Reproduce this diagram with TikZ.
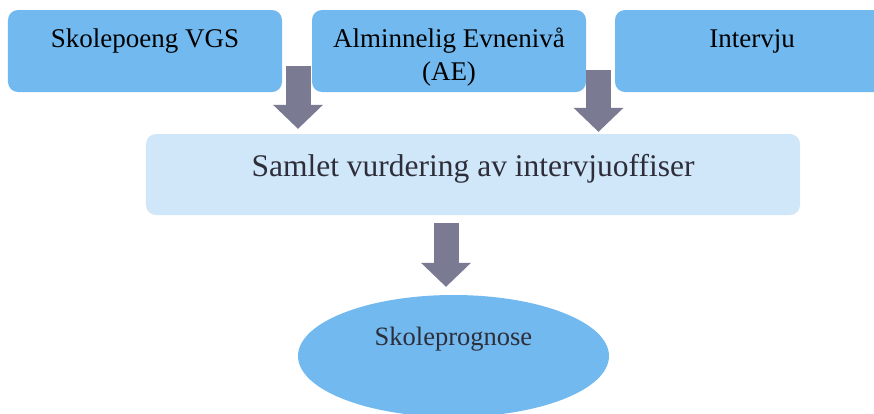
\documentclass[tikz,border=0pt]{standalone}
\usepackage{fontspec}
\setmainfont{Liberation Serif}
\usetikzlibrary{shapes.geometric,arrows.meta}
\definecolor{topblue}{HTML}{71B9EF}
\definecolor{midblue}{HTML}{D0E6F9}
\definecolor{arrowgray}{HTML}{7B7A93}
\definecolor{darktext}{HTML}{2E2E3A}
\tikzset{
  topbox/.style={rectangle, rounded corners=10bp, fill=topblue, draw=none,
    minimum width=274bp, inner xsep=0pt, inner ysep=0pt,
    text height=37bp, text depth=45bp, align=center, anchor=base,
    font=\fontsize{27bp}{33bp}\selectfont, text=black},
  midbox/.style={rectangle, rounded corners=10bp, fill=midblue, draw=none,
    minimum width=654bp, inner xsep=0pt, inner ysep=0pt,
    text height=42bp, text depth=39bp, anchor=base,
    font=\fontsize{31.5bp}{36bp}\selectfont, text=darktext},
  resultell/.style={ellipse, fill=topblue, draw=none,
    minimum width=311bp, minimum height=122bp, inner sep=0pt,
    text height=20bp, text depth=42bp, anchor=base,
    font=\fontsize{26.5bp}{32bp}\selectfont, text=darktext},
  bigarrow/.style={draw=arrowgray, line width=25bp,
    -{Triangle[width=50bp,length=24bp,line width=0pt]}}
}
\begin{document}
\begin{tikzpicture}[x=1bp,y=-1bp]
\useasboundingbox (0,0) rectangle (874,413);
\clip (0,0) rectangle (874,413);
\node[topbox] (b1) at (145,47) {Skolepoeng VGS};
\node[topbox, text height=70bp, text depth=12bp] (b2) at (449,80) {Alminnelig Evnenivå\\(AE)};
\node[topbox] (b3) at (752,47) {Intervju};
\node[midbox] (c) at (473,176) {Samlet vurdering av intervjuoffiser};
\node[resultell] (e) at (453.5,345) {Skoleprognose};
\coordinate (a1) at (298,66);
\coordinate (a2) at (598.5,70);
\coordinate (a3) at (446,223);
\draw[bigarrow, shorten >=5bp] (a1) -- (a1 |- c.north);
\draw[bigarrow, shorten >=2bp] (a2) -- (a2 |- c.north);
\draw[bigarrow, shorten >=8bp] (a3) -- (a3 |- e.north);
\end{tikzpicture}
\end{document}
